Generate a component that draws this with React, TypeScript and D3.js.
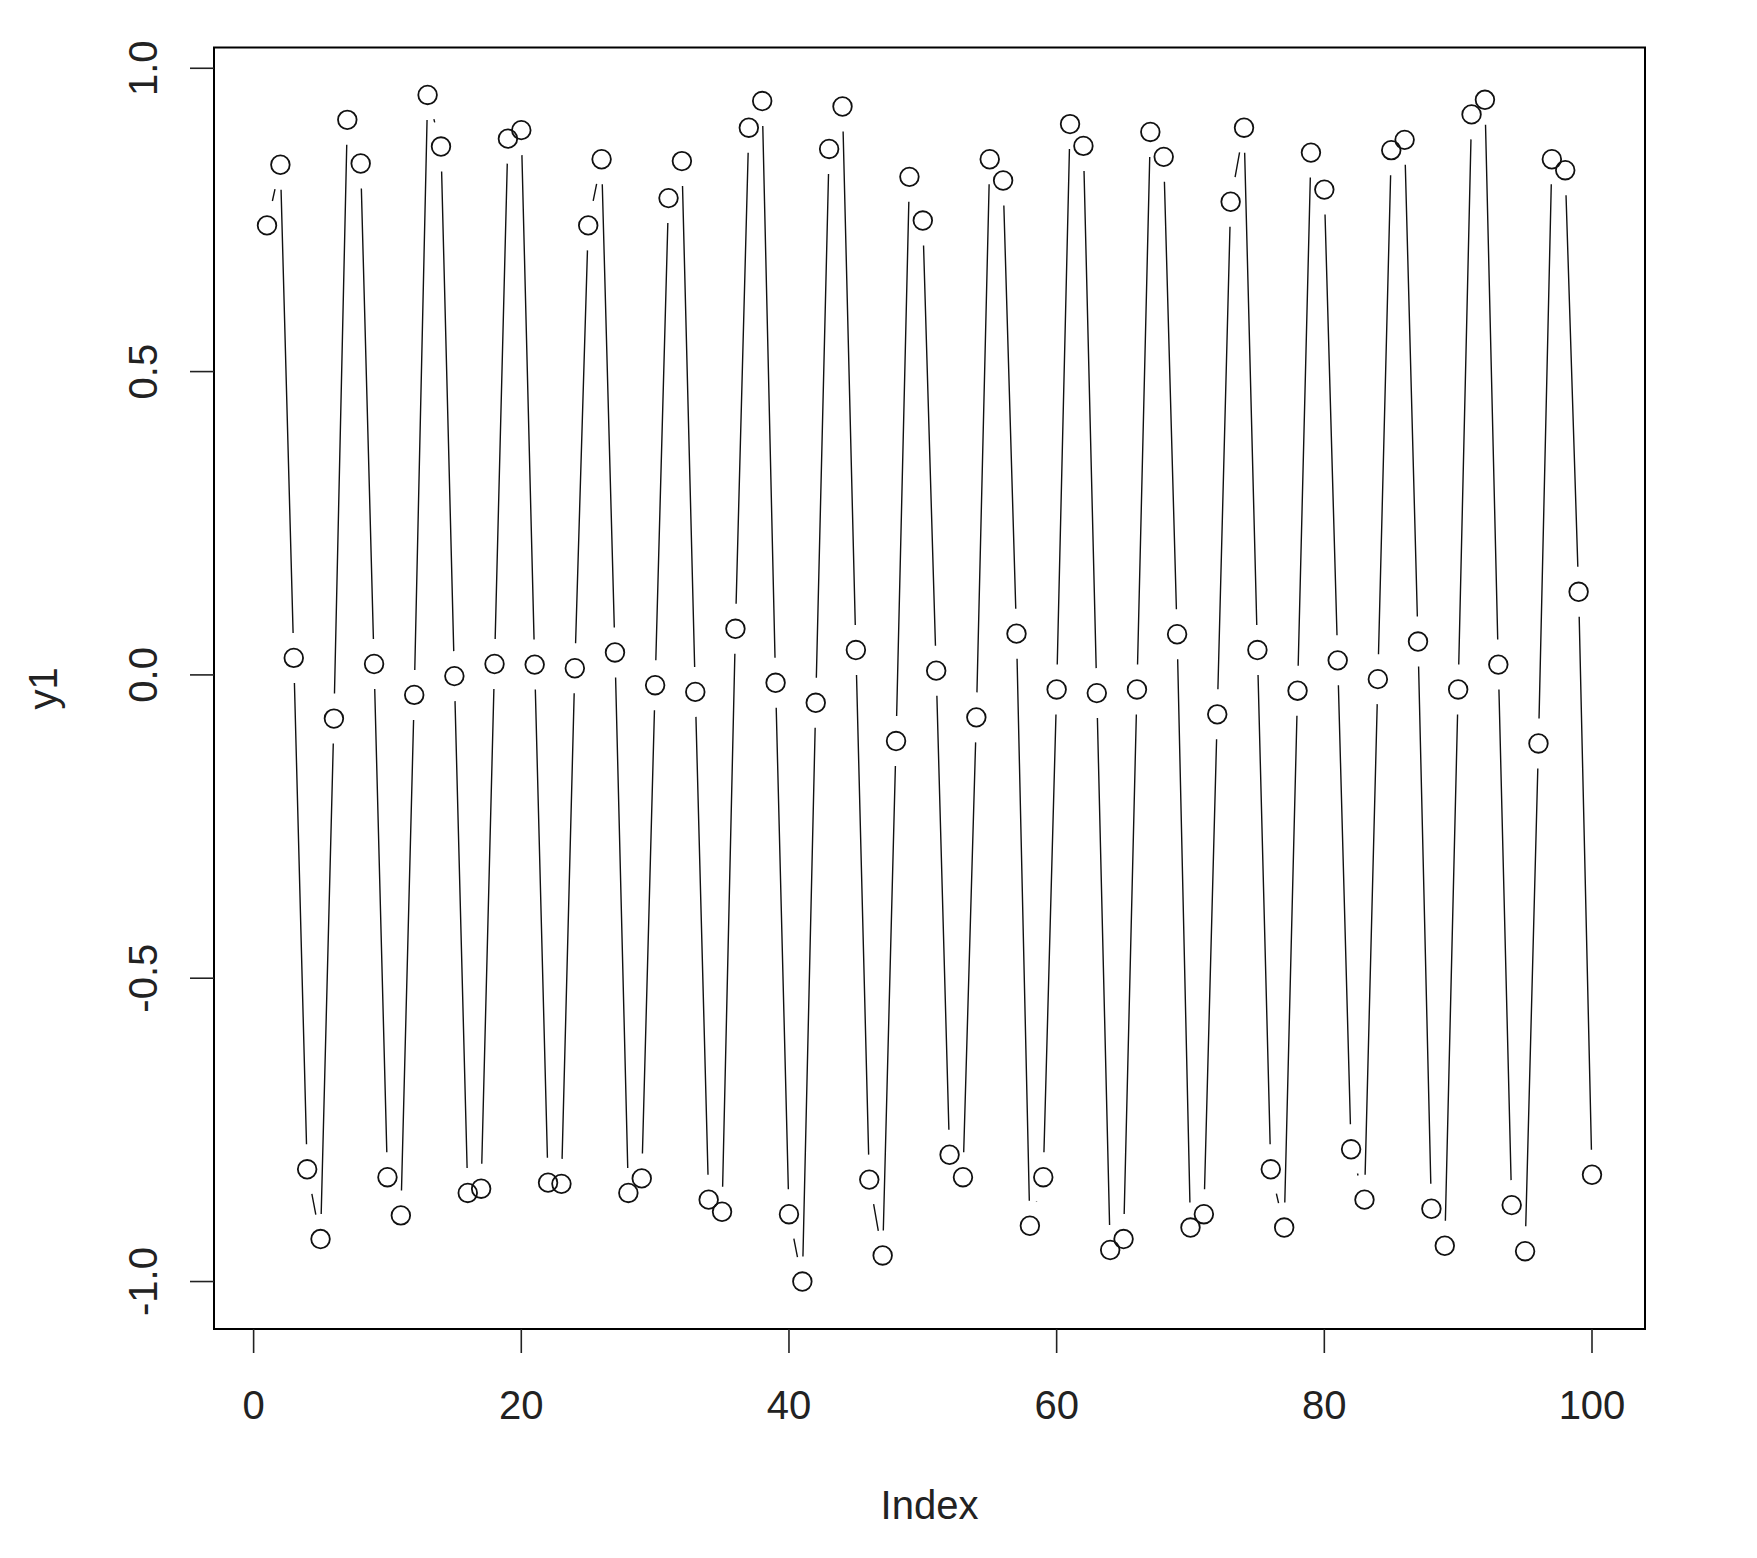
import React from "react";
import * as d3 from "d3";

const yValues: number[] = [
  0.741, 0.841, 0.028, -0.815, -0.930, -0.072, 0.915, 0.843, 0.018, -0.828,
  -0.891, -0.033, 0.956, 0.871, -0.002, -0.854, -0.847, 0.018, 0.884, 0.898,
  0.017, -0.837, -0.839, 0.011, 0.741, 0.850, 0.037, -0.854, -0.830, -0.017,
  0.786, 0.847, -0.028, -0.865, -0.885, 0.076, 0.902, 0.946, -0.013, -0.889,
  -1.000, -0.046, 0.867, 0.937, 0.041, -0.832, -0.957, -0.109, 0.821, 0.749,
  0.007, -0.791, -0.828, -0.070, 0.850, 0.815, 0.068, -0.908, -0.828, -0.024,
  0.908, 0.872, -0.030, -0.948, -0.930, -0.024, 0.895, 0.854, 0.067, -0.911,
  -0.889, -0.065, 0.780, 0.902, 0.041, -0.815, -0.911, -0.026, 0.861, 0.800,
  0.024, -0.782, -0.865, -0.007, 0.865, 0.882, 0.055, -0.880, -0.941, -0.024,
  0.924, 0.948, 0.017, -0.874, -0.950, -0.113, 0.850, 0.832, 0.137, -0.824,
];
const indexValues: number[] = yValues.map((_, i) => i + 1);
const xTicks: number[] = [0, 20, 40, 60, 80, 100];
const yTicks: number[] = [-1.0, -0.5, 0.0, 0.5, 1.0];
const xLabel = "Index";
const yLabel = "y1";

const W = 1757;
const H = 1558;
const box = { left: 214, right: 1645, top: 47.5, bottom: 1329 };
const FONT = "'Liberation Sans', Arial, Helvetica, sans-serif";
const FS = 40;
const GAP = 25;

function pad(ext: [number, number]): [number, number] {
  const r = ext[1] - ext[0];
  return [ext[0] - 0.04 * r, ext[1] + 0.04 * r];
}

export default function App() {
  const xExt = d3.extent(indexValues) as [number, number];
  const yExt = d3.extent(yValues) as [number, number];
  const x = d3.scaleLinear().domain(pad(xExt)).range([box.left, box.right]);
  const y = d3.scaleLinear().domain(pad(yExt)).range([box.bottom, box.top]);

  const pts = yValues.map((v, i) => [x(indexValues[i]), y(v)] as [number, number]);
  const segs: string[] = [];
  for (let i = 1; i < pts.length; i++) {
    const [x0, y0] = pts[i - 1];
    const [x1, y1] = pts[i];
    const dx = x1 - x0;
    const dy = y1 - y0;
    const len = Math.sqrt(dx * dx + dy * dy);
    if (len > 2 * GAP) {
      const ux = dx / len;
      const uy = dy / len;
      segs.push(
        `M${x0 + GAP * ux},${y0 + GAP * uy}L${x1 - GAP * ux},${y1 - GAP * uy}`
      );
    }
  }

  return (
    <svg
      width={W}
      height={H}
      style={{ position: "absolute", left: 0, top: 0, background: "#fff" }}
      fontFamily={FONT}
    >
      <rect x={0} y={0} width={W} height={H} fill="#fff" />
      <path d={segs.join("")} stroke="#111" strokeWidth={1.4} fill="none" />
      {pts.map((p, i) => (
        <circle key={i} cx={p[0]} cy={p[1]} r={9.3} fill="none" stroke="#111" strokeWidth={1.8} />
      ))}
      <rect
        x={box.left}
        y={box.top}
        width={box.right - box.left}
        height={box.bottom - box.top}
        fill="none"
        stroke="#000"
        strokeWidth={2}
      />
      {xTicks.map((t) => (
        <g key={"x" + t}>
          <line x1={x(t)} x2={x(t)} y1={box.bottom} y2={box.bottom + 24} stroke="#222" strokeWidth={1.6} />
          <text x={x(t)} y={1419} textAnchor="middle" fontSize={FS} fill="#222">
            {String(t)}
          </text>
        </g>
      ))}
      {yTicks.map((t) => (
        <g key={"y" + t}>
          <line x1={box.left} x2={box.left - 24} y1={y(t)} y2={y(t)} stroke="#222" strokeWidth={1.6} />
          <text
            transform={`translate(157,${y(t)}) rotate(-90)`}
            textAnchor="middle"
            fontSize={FS}
            fill="#222"
          >
            {t.toFixed(1)}
          </text>
        </g>
      ))}
      <text x={(box.left + box.right) / 2} y={1519} textAnchor="middle" fontSize={FS} fill="#222">
        {xLabel}
      </text>
      <text
        transform={`translate(57,${(box.top + box.bottom) / 2}) rotate(-90)`}
        textAnchor="middle"
        fontSize={FS}
        fill="#222"
      >
        {yLabel}
      </text>
    </svg>
  );
}
